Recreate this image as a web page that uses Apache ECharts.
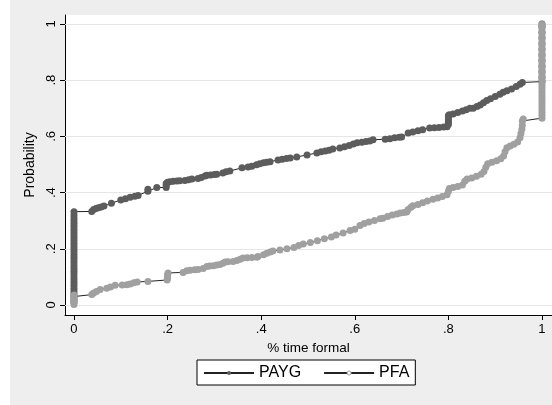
<!DOCTYPE html>
<html><head><meta charset="utf-8">
<script src="https://cdn.jsdelivr.net/npm/echarts@6/dist/echarts.min.js"></script>
<style>
html,body{margin:0;padding:0;background:#fff}
#c{width:552px;height:405px;background:linear-gradient(to right,#fff 0,#fff 10px,#eeeeee 10px)}
</style>
</head><body><div id="c"></div>
<script>
// Tick values for both axes
const tickValues = [0, 0.2, 0.4, 0.6, 0.8, 1];
const seriesNames = ['PAYG', 'PFA'];
const xTitle = '% time formal';
const yTitle = 'Probability';

// PAYG cumulative probability (x = % time formal, y = probability)
const paygX = [0,0,0,0,0,0,0,0,0,0,0,0,0,0,0,0,0,0,0,0,0,0,0,0,0,0,0,0,0,0,0,0,0,
  0.038,0.042,0.047,0.052,0.058,0.064,0.08,0.1,0.11,0.12,0.13,0.137,0.158,0.158,0.177,0.197,0.197,0.197,0.2,0.205,0.212,0.22,0.226,
  0.237,0.245,0.252,0.265,0.272,0.28,0.284,0.292,0.3,0.305,0.318,0.325,0.333,0.359,0.372,0.38,0.39,0.397,0.405,0.412,0.419,
  0.436,0.445,0.454,0.462,0.476,0.498,0.519,0.528,0.537,0.545,0.553,0.568,0.578,0.588,0.597,0.605,0.615,0.624,0.632,0.639,
  0.665,0.675,0.685,0.695,0.7,0.714,0.724,0.735,0.745,0.76,0.77,0.78,0.79,0.797,0.8,0.8,0.8,0.8,0.8,0.802,0.81,0.82,0.83,0.838,0.846,
  0.853,0.861,0.868,0.875,0.882,0.89,0.9,0.91,0.917,0.925,0.935,0.945,0.953,0.958,
  1,1,1,1,1,1,1,1,1,1,1,1];
const paygY = [0.01,0.02,0.03,0.04,0.05,0.06,0.07,0.08,0.09,0.1,0.11,0.12,0.13,0.14,0.15,0.16,0.17,0.18,0.19,0.2,0.21,0.22,0.23,0.24,0.25,0.26,0.27,0.28,0.29,0.3,0.31,0.32,0.332,
  0.333,0.34,0.343,0.346,0.349,0.352,0.362,0.374,0.378,0.383,0.387,0.39,0.405,0.412,0.418,0.418,0.425,0.432,0.437,0.439,0.44,0.441,0.442,
  0.443,0.446,0.448,0.45,0.454,0.459,0.462,0.463,0.464,0.465,0.47,0.474,0.477,0.488,0.491,0.494,0.499,0.503,0.506,0.508,0.51,
  0.516,0.519,0.521,0.523,0.527,0.534,0.541,0.545,0.548,0.551,0.555,0.559,0.563,0.568,0.573,0.577,0.579,0.582,0.584,0.588,
  0.59,0.592,0.595,0.597,0.598,0.612,0.616,0.62,0.624,0.63,0.631,0.632,0.633,0.634,0.642,0.65,0.658,0.666,0.674,0.677,0.68,0.685,0.69,0.695,0.7,
  0.7,0.706,0.712,0.72,0.728,0.734,0.742,0.75,0.757,0.762,0.769,0.778,0.786,0.792,
  0.795,0.81,0.83,0.85,0.87,0.89,0.91,0.93,0.95,0.97,0.99,1];

// PFA cumulative probability
const pfaX = [0,0,0,0,0,0,
  0.038,0.042,0.048,0.056,0.07,0.078,0.088,0.103,0.113,0.12,0.128,0.135,0.158,0.199,0.2,0.2,0.2,0.201,
  0.233,0.241,0.248,0.258,0.265,0.276,0.284,0.29,0.298,0.305,0.312,0.318,0.323,0.329,0.34,0.348,0.355,0.361,0.37,0.38,0.391,0.393,
  0.405,0.412,0.419,0.425,0.44,0.455,0.47,0.48,0.49,0.505,0.52,0.535,0.55,0.56,0.575,0.59,0.6,0.611,0.62,0.63,0.642,0.654,0.66,
  0.67,0.68,0.69,0.697,0.705,0.711,0.714,0.72,0.724,0.735,0.745,0.755,0.767,0.777,0.787,0.797,0.8,0.802,0.81,0.82,0.83,0.835,
  0.84,0.85,0.86,0.87,0.876,0.88,0.884,0.893,0.903,0.912,0.918,0.921,0.925,0.932,0.94,0.948,0.953,0.955,0.957,0.958,0.958,0.96,
  1,1,1,1,1,1,1,1,1,1,1,1,1,1,1,1,1,1,1,1,1,1,1,1,1,1,1,1,1,1,1,1,1,1,1];
const pfaY = [0.002,0.009,0.016,0.023,0.03,0.036,
  0.037,0.043,0.048,0.055,0.06,0.064,0.07,0.071,0.072,0.075,0.079,0.082,0.084,0.089,0.095,0.101,0.108,0.114,
  0.116,0.122,0.124,0.125,0.126,0.13,0.137,0.139,0.14,0.142,0.144,0.149,0.153,0.154,0.155,0.158,0.163,0.167,0.168,0.169,0.17,0.173,
  0.179,0.184,0.189,0.192,0.196,0.2,0.205,0.212,0.217,0.222,0.229,0.236,0.242,0.249,0.256,0.265,0.27,0.283,0.29,0.295,0.301,0.307,0.309,
  0.315,0.32,0.324,0.327,0.329,0.331,0.34,0.348,0.353,0.358,0.364,0.37,0.376,0.381,0.386,0.392,0.405,0.415,0.418,0.422,0.427,0.44,
  0.448,0.452,0.458,0.465,0.475,0.49,0.503,0.508,0.513,0.52,0.53,0.545,0.56,0.566,0.572,0.58,0.595,0.61,0.625,0.64,0.655,0.662,
  0.665,0.675,0.685,0.695,0.705,0.715,0.725,0.735,0.745,0.755,0.765,0.775,0.785,0.795,0.805,0.815,0.825,0.835,0.845,0.855,0.865,0.875,0.885,0.895,0.905,0.915,0.925,0.935,0.945,0.955,0.965,0.975,0.985,0.992,0.998];

const FONT = '"Liberation Sans", Arial, sans-serif';
const fmt = v => v === 0 ? '0' : v === 1 ? '1' : '.' + Math.round(v * 10);
const pairs = (xs, ys) => xs.map((x, i) => [x, ys[i]]);

const chart = echarts.init(document.getElementById('c'), null, {renderer: 'canvas'});
chart.setOption({
  animation: false,
  backgroundColor: 'transparent',
  textStyle: {fontFamily: FONT},
  grid: {left: 65, top: 15, right: 0, bottom: 90, show: true, backgroundColor: '#ffffff', borderWidth: 0, containLabel: false, outerBoundsMode: 'none'},
  xAxis: {
    type: 'value', min: -0.0192, max: 1.0214,
    name: xTitle, nameLocation: 'middle', nameGap: 20,
    nameTextStyle: {fontSize: 13.5, color: '#000', fontFamily: FONT},
    axisLine: {show: true, onZero: false, lineStyle: {color: '#000', width: 1}},
    axisTick: {show: true, length: 5, customValues: tickValues, lineStyle: {color: '#000'}},
    axisLabel: {show: true, customValues: tickValues, formatter: fmt, fontSize: 13, color: '#000', margin: 8, fontFamily: FONT},
    splitLine: {show: false}
  },
  yAxis: {
    type: 'value', min: -0.0356, max: 1.032,
    name: yTitle, nameLocation: 'middle', nameGap: 20, nameRotate: 90,
    nameTextStyle: {fontSize: 14, color: '#000', fontFamily: FONT},
    axisLine: {show: true, onZero: false, lineStyle: {color: '#000', width: 1}},
    axisTick: {show: true, length: 5, customValues: tickValues, lineStyle: {color: '#000'}},
    axisLabel: {show: true, customValues: tickValues, formatter: fmt, rotate: 90, fontSize: 13, color: '#000', margin: 7, fontFamily: FONT},
    splitLine: {show: false}
  },
  legend: {
    left: 197, top: 360, orient: 'horizontal',
    itemWidth: 50, itemHeight: 5, itemGap: 22,
    padding: [5, 6, 4, 6], borderColor: '#000', borderWidth: 1, borderRadius: 0, backgroundColor: '#fff',
    textStyle: {fontSize: 16, color: '#000', fontFamily: FONT},
    data: [
      {name: seriesNames[0], itemStyle: {color: '#5f5f5f', borderWidth: 0}},
      {name: seriesNames[1], itemStyle: {color: '#ffffff', borderColor: '#a0a0a0', borderWidth: 1}}
    ],
    selectedMode: false
  },
  series: [
    {
      name: seriesNames[0], type: 'line', data: pairs(paygX, paygY),
      symbol: 'circle', symbolSize: 7, showSymbol: true, showAllSymbol: true,
      itemStyle: {color: '#5c5c5c', borderWidth: 0, borderColor: '#5c5c5c'}, lineStyle: {color: '#222', width: 1},
      z: 3, silent: true, sampling: null,
      markLine: {
        silent: true, symbol: 'none', z: 1, animation: false,
        label: {show: false},
        lineStyle: {color: '#e6e6e6', type: 'solid', width: 1},
        emphasis: {disabled: true},
        data: tickValues.map(v => ({yAxis: v}))
      }
    },
    {
      name: seriesNames[1], type: 'line', data: pairs(pfaX, pfaY),
      symbol: 'circle', symbolSize: 7, showSymbol: true, showAllSymbol: true,
      itemStyle: {color: '#a0a0a0', borderWidth: 0, borderColor: '#a0a0a0'}, lineStyle: {color: '#222', width: 1},
      z: 4, silent: true
    }
  ]
});
</script>
</body></html>
